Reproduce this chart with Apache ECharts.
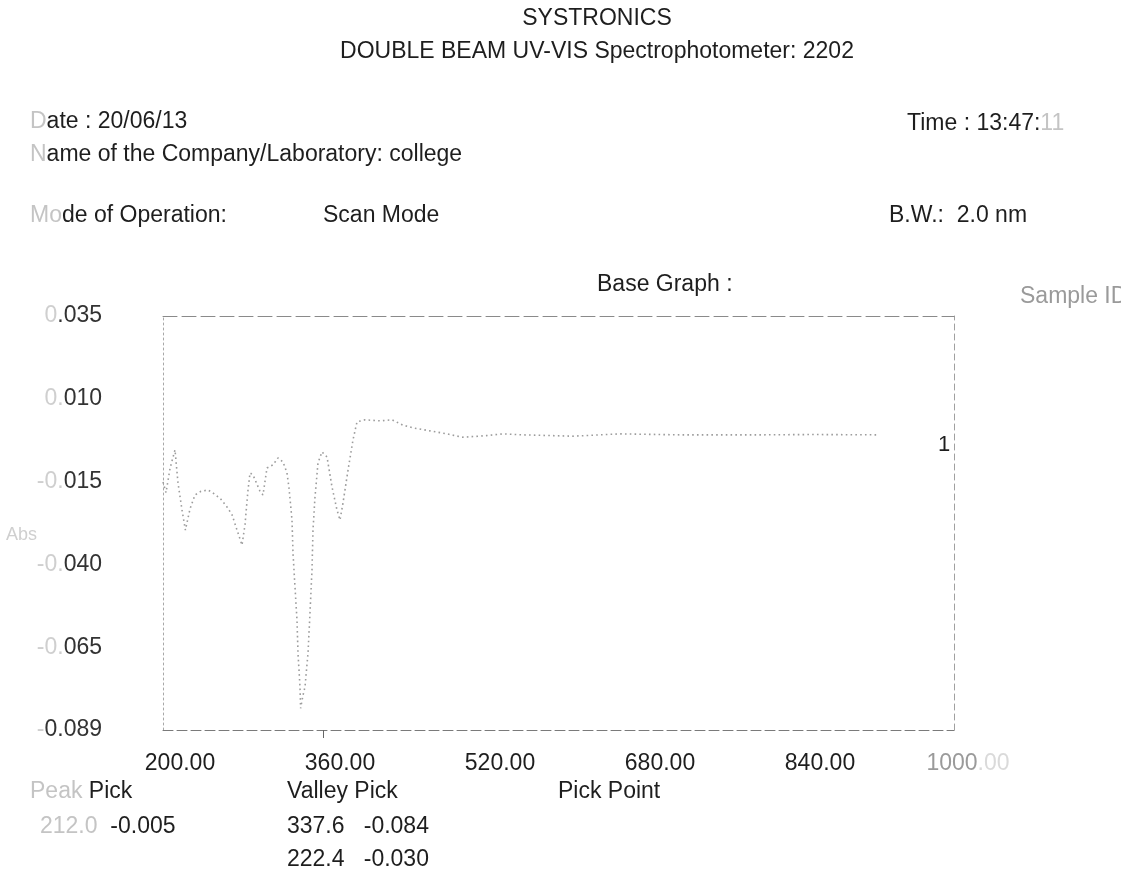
<!DOCTYPE html>
<html>
<head>
<meta charset="utf-8">
<script src="https://cdn.jsdelivr.net/npm/echarts@6/dist/echarts.min.js"></script>
<style>
html,body{margin:0;padding:0;background:#fff;}
#chart{width:1121px;height:882px;}
</style>
</head>
<body>
<div id="chart"></div>
<script>
// ---- data ----
const wavelength = [200, 203, 207, 212, 215, 219, 222.4, 227, 232, 238, 245, 252, 258, 264, 269, 274, 279, 282, 285, 287, 290, 293, 297, 300, 304, 310, 315, 320, 324, 326, 329, 330, 332, 334, 335, 337, 337.6, 340, 342, 345, 347, 349, 350, 352, 355, 359, 364, 369, 374, 377, 380, 385, 390, 394, 402, 417, 429, 440, 450, 467, 484, 499, 517, 540, 560, 610, 657, 717, 797, 850, 915];
const absorbance = [-0.0147, -0.0179, -0.0107, -0.0051, -0.0150, -0.0231, -0.0291, -0.0228, -0.0186, -0.0175, -0.0171, -0.0184, -0.0199, -0.0222, -0.0245, -0.0291, -0.0336, -0.0275, -0.0171, -0.0120, -0.0126, -0.0147, -0.0175, -0.0186, -0.0105, -0.0096, -0.0075, -0.0087, -0.0120, -0.0165, -0.0261, -0.0360, -0.0462, -0.0561, -0.0660, -0.0761, -0.0825, -0.0786, -0.0761, -0.0660, -0.0539, -0.0410, -0.0291, -0.0192, -0.0090, -0.0057, -0.0072, -0.0162, -0.0231, -0.0261, -0.0210, -0.0112, -0.0021, 0.0033, 0.0039, 0.0036, 0.0039, 0.0023, 0.0015, 0.0006, -0.0003, -0.0013, -0.0010, -0.0003, -0.0006, -0.0010, -0.0003, -0.0006, -0.0006, -0.0005, -0.0006];
const seriesName = '1';

const xTickValues = [200, 360, 520, 680, 840, 1000];
const xTickLabels = ['200.00', '360.00', '520.00', '680.00', '840.00', '1000.00'];
const yTickValues = [0.035, 0.0102, -0.0146, -0.0394, -0.0642, -0.089];
const yTickLabels = ['0.035', '0.010', '-0.015', '-0.040', '-0.065', '-0.089'];
const yFaintChars = [1, 2, 3, 3, 3, 1];

const peakPicks = [['212.0', '-0.005']];
const valleyPicks = [['337.6', '-0.084'], ['222.4', '-0.030']];

// ---- chart ----
const X_MIN = 200, X_MAX = 991;
const Y_MIN = -0.089, Y_MAX = 0.035;
const FONT = '"Liberation Sans", Arial, sans-serif';

const chart = echarts.init(document.getElementById('chart'), null, {renderer: 'canvas'});

function txt(x, y, text, opts) {
  opts = opts || {};
  const size = opts.size || 23;
  return {
    type: 'text', x: x, y: y, silent: true,
    style: {
      text: text,
      fontSize: size, fontFamily: FONT,
      fill: opts.fill || '#1e1e1e',
      align: opts.align || 'left', verticalAlign: 'middle',
      textAlign: opts.align || 'left', textVerticalAlign: 'middle',
      rich: {
        f: {fill: '#c4c4c4', fontSize: size, fontFamily: FONT},
        n: {fill: opts.fill || '#1e1e1e', fontSize: size, fontFamily: FONT}
      }
    }
  };
}

const xLabelPos = xTickValues.map(v => Math.min(v, X_MAX));

const graphic = [
  txt(597, 19, 'SYSTRONICS', {align: 'center'}),
  txt(597, 52, 'DOUBLE BEAM UV-VIS Spectrophotometer: 2202', {align: 'center'}),
  txt(30, 122, '{f|D}{n|ate : 20/06/13}'),
  txt(907, 124, '{n|Time : 13:47:}{f|11}'),
  txt(30, 155, '{f|N}{n|ame of the Company/Laboratory: college}'),
  txt(30, 216, '{f|Mo}{n|de of Operation:}'),
  txt(323, 216, 'Scan Mode'),
  txt(889, 216, 'B.W.:  2.0 nm'),
  txt(597, 285, 'Base Graph :'),
  txt(1020, 297, 'Sample ID', {fill: '#9a9a9a'}),
  txt(6, 535, 'Abs', {fill: '#cfcfcf', size: 18}),
  txt(30, 792, '{f|Peak} {n|Pick}'),
  txt(287, 792, 'Valley Pick'),
  txt(558, 792, 'Pick Point')
];
peakPicks.forEach((p, i) => {
  graphic.push(txt(40, 827 + i * 33, '{f|' + p[0] + '}  {n|' + p[1] + '}'));
});
valleyPicks.forEach((p, i) => {
  graphic.push(txt(287, 827 + i * 33, p[0] + '   ' + p[1]));
});

const option = {
  backgroundColor: '#ffffff',
  animation: false,
  grid: {left: 163, right: 1121 - 954, top: 316, bottom: 882 - 730, containLabel: false},
  xAxis: [{
    type: 'value', min: X_MIN, max: X_MAX, position: 'bottom',
    axisLine: {show: true, onZero: false, lineStyle: {color: '#7a7a7a', width: 1, type: [10, 4]}},
    axisTick: {show: true, customValues: [360], length: 8, lineStyle: {color: '#666'}},
    splitLine: {show: false},
    axisLabel: {
      show: true, customValues: xLabelPos, margin: 22,
      fontSize: 23, fontFamily: FONT, color: '#1e1e1e',
      formatter: function (val) {
        const i = xLabelPos.indexOf(val);
        if (i < 0) return '';
        if (i === xLabelPos.length - 1) return '{e|' + xTickLabels[i].slice(0, 4) + '}{ef|' + xTickLabels[i].slice(4) + '}';
        return '{n|' + xTickLabels[i] + '}';
      },
      rich: {
        n: {fontSize: 23, fontFamily: FONT, color: '#1e1e1e', padding: [0, 0, 0, 34]},
        e: {fontSize: 23, fontFamily: FONT, color: '#9a9a9a', padding: [0, 0, 0, 28]},
        ef: {fontSize: 23, fontFamily: FONT, color: '#dadada'}
      }
    }
  }, {
    type: 'value', min: X_MIN, max: X_MAX, position: 'top',
    axisLine: {show: true, onZero: false, lineStyle: {color: '#8a8a8a', width: 1, type: [14, 5]}},
    axisTick: {show: false}, axisLabel: {show: false}, splitLine: {show: false}
  }],
  yAxis: [{
    type: 'value', min: Y_MIN, max: Y_MAX, position: 'left',
    axisLine: {show: true, onZero: false, lineStyle: {color: '#a8a8a8', width: 1, type: [2, 3]}},
    axisTick: {show: false},
    splitLine: {show: false},
    axisLabel: {
      show: true, customValues: yTickValues, margin: 61,
      fontSize: 23, fontFamily: FONT, color: '#333',
      formatter: function (val) {
        let i = -1;
        yTickValues.forEach((v, k) => { if (Math.abs(v - val) < 1e-9) i = k; });
        if (i < 0) return '';
        const s = yTickLabels[i], k = yFaintChars[i];
        return '{f|' + s.slice(0, k) + '}{n|' + s.slice(k) + '}';
      },
      rich: {
        f: {fontSize: 23, fontFamily: FONT, color: '#cfcfcf'},
        n: {fontSize: 23, fontFamily: FONT, color: '#333'}
      }
    }
  }, {
    type: 'value', min: Y_MIN, max: Y_MAX, position: 'right',
    axisLine: {show: true, onZero: false, lineStyle: {color: '#a0a0a0', width: 1, type: [6, 4]}},
    axisTick: {show: false}, axisLabel: {show: false}, splitLine: {show: false}
  }],
  series: [{
    name: seriesName,
    type: 'line',
    xAxisIndex: 0, yAxisIndex: 0,
    data: wavelength.map((w, i) => [w, absorbance[i]]),
    showSymbol: false, symbol: 'none',
    smooth: false,
    lineStyle: {color: '#9c9c9c', width: 1.6, type: [1.6, 3.2]},
    endLabel: {
      show: true, formatter: seriesName, offset: [52, 10],
      fontSize: 22, fontFamily: FONT, color: '#1e1e1e'
    },
    z: 3
  }],
  graphic: graphic
};
chart.setOption(option);
</script>
</body>
</html>
